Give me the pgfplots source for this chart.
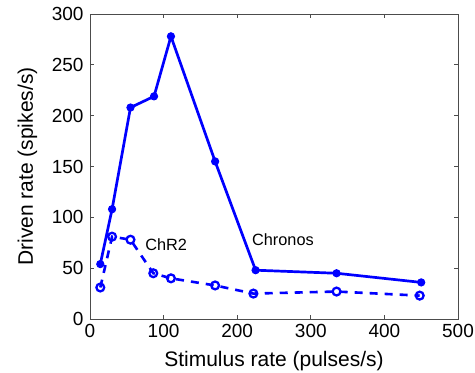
\documentclass[border=0pt]{standalone}
\usepackage{fontspec}
\setmainfont{Liberation Sans}
\usepackage{pgfplots}
\pgfplotsset{compat=1.18}
\begin{document}
\begin{tikzpicture}
\useasboundingbox (-90pt,-54pt) rectangle (385pt,319pt);
\begin{axis}[
  at={(0pt,0pt)}, anchor=south west,
  scale only axis, width=368pt, height=305pt,
  xmin=0, xmax=500, ymin=0, ymax=300,
  xtick={0,100,200,300,400,500},
  ytick={0,50,100,150,200,250,300},
  tick align=inside,
  major tick length=4pt,
  axis line style={draw=black!70, line width=0.8pt},
  every tick/.style={draw=black!70, line width=0.8pt},
  /pgf/number format/assume math mode=true,
  ticklabel style={font=\fontsize{19}{22}\selectfont},
  xticklabel style={yshift=-2pt},
  yticklabel style={xshift=-3pt},
  label style={font=\fontsize{21}{24}\selectfont},
  xlabel={Stimulus rate (pulses/s)},
  ylabel={Driven rate (spikes/s)},
  xlabel style={at={(axis description cs:0.5,-0.1564)}, anchor=base},
  ylabel style={at={(axis description cs:-0.1549,0.5)}, anchor=base, rotate=0},
  clip=false,
]
\addplot[blue, line width=2.7pt, mark=*, mark size=3.6pt, mark options={solid, fill=blue, line width=1pt}]
coordinates {(14,54) (30,108) (55,208) (87,219) (110,278) (170,155) (225,48) (335,45) (450,36)};
\addplot[blue, line width=2.6pt, dash pattern=on 8pt off 7pt, mark=o, mark size=3.9pt, mark options={solid, fill=white, line width=2.3pt}]
coordinates {(14,31) (30,81) (55,78) (86,45) (110,40) (170,33) (222,25) (335,27) (448,23)};
\node[anchor=base west, inner sep=0pt, font=\fontsize{16.3}{19}\selectfont] at (axis cs:75,67) {ChR2};
\node[anchor=base west, inner sep=0pt, font=\fontsize{16.3}{19}\selectfont] at (axis cs:220,72) {Chronos};
\end{axis}
\end{tikzpicture}
\end{document}
